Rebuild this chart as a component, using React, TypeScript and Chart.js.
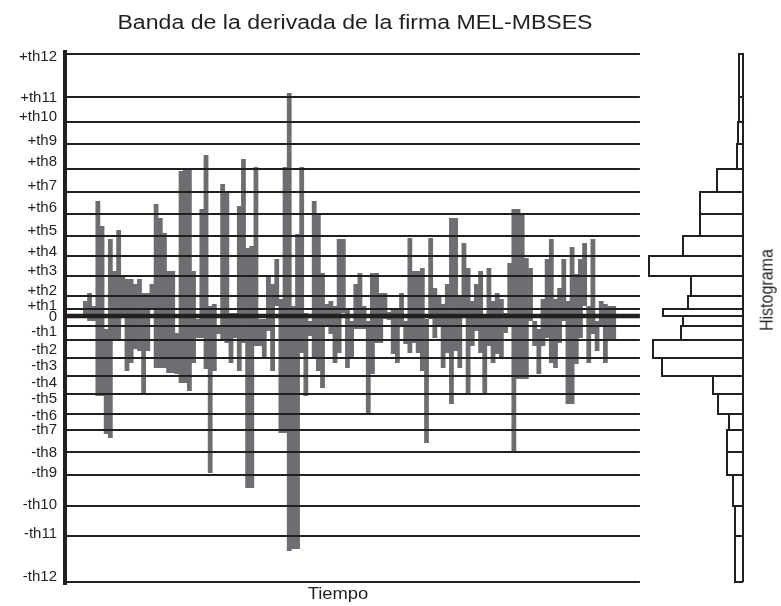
import React, { useEffect, useRef } from 'react';
import { Chart, registerables } from 'chart.js';

Chart.register(...registerables);

// Threshold labels / values (ascending, from -th12 to +th12)
const thresholdLabels = [
  '-th12', '-th11', '-th10', '-th9', '-th8', '-th7', '-th6', '-th5', '-th4', '-th3', '-th2', '-th1',
  '0',
  '+th1', '+th2', '+th3', '+th4', '+th5', '+th6', '+th7', '+th8', '+th9', '+th10', '+th11', '+th12',
];
const thresholdValues = [
  -266, -220, -190, -159, -136, -114, -98, -78, -60, -42, -24, -10,
  0,
  7, 20, 40, 60, 80, 102, 124, 147, 172, 194, 219, 262,
];
// where each tick label sits on the value axis
const labelAnchors = [
  -261, -218, -189, -157, -137, -114, -100, -83, -67, -50, -34, -16,
  -1,
  10, 25, 45, 64, 85, 108, 130, 154, 175, 199, 218, 259,
];

// Band of the derivative: per time sample, upper and lower value
const barHigh = [
  15, 23, 10, 115, 90, -13, 77, 45, 86, 40, 37, 37, 32, 37, 23, 23, 32, 112, 98, 83,
  45, 45, -17, 145, 148, 148, 45, -3, 107, 161, 10, 12, -10, 132, 123, 3, 3, 110, 157, 68,
  70, 149, -3, -3, 40, 32, 57, 17, 149, 223, 10, 82, 149, 3, -5, 115, 103, 43, 12, 15,
  10, 77, 77, 7, -5, 32, 43, 10, -5, 43, 43, 23, 23, 4, 7, 7, 23, -5, 78, 45,
  45, 48, -3, 78, 28, 20, 12, 32, 98, 98, 20, 73, 48, 15, 32, 45, -2, 48, 15, 23,
  17, 3, 53, 107, 107, 103, 58, 48, -5, -13, 17, 57, 77, 17, 28, 57, 15, 69, 42, 57,
  73, 10, 77, -5, 15, 12, 10, 10,
];
const barLow = [
  2, -5, -5, -80, -80, -118, -122, -23, -23, 0, -55, -47, -33, -35, -77, -35, 7, -52, -52, -52,
  -57, -57, -58, -67, -67, -75, -47, -22, -22, -53, -157, -55, -18, -25, -27, -47, -22, -55, -27, -172,
  -172, -30, -30, -43, -15, -55, 10, -117, -117, -235, -233, -233, -37, -80, -20, -43, -55, -72, -10, -18,
  -47, -37, 3, -52, -43, -13, -13, -13, -98, -58, -27, -27, -3, -4, -38, -47, -10, -28, -37, -27,
  -37, -55, -127, -3, -22, -10, -52, -37, -88, -35, -52, 0, -77, -30, -15, -37, -77, -30, -47, -38,
  -43, -17, -10, -135, -63, -63, -63, -5, -30, -58, -30, -22, -47, -52, -27, -5, -88, -88, -48, -22,
  10, -47, -18, -35, -10, -47, -23, -23,
];

// Histogram counts per bin (bin k between thresholdValues[k] and thresholdValues[k+1])
const histCounts = [
  8, 8, 10, 16, 16, 14, 25, 30, 81, 90, 62, 60,
  80, 55, 52, 94, 60, 43, 43, 26, 6, 5, 4, 4,
];

const X_MIN = -4.4;
const X_MAX = 158.58;
const LINE_END = 133.8;
const HIST_MAX = 678;
const Y_MIN = -268;
const Y_MAX = 264;

const INK = '#231f20';
const BAR_GRAY = '#6d6e71';
const FONT = "'Liberation Sans', Arial, Helvetica, sans-serif";

export default function App() {
  const ref = useRef<HTMLCanvasElement>(null);

  useEffect(() => {
    const canvas = ref.current;
    if (!canvas) return;

    const bars: any = {
      type: 'bar',
      label: 'banda',
      xAxisID: 'x',
      yAxisID: 'y',
      data: barHigh.map((h, i) => ({ x: i + 0.5, y: [barLow[i], h] })),
      backgroundColor: BAR_GRAY,
      borderWidth: 0,
      grouped: false,
      barThickness: 4.8,
      inflateAmount: 0,
      order: 2,
    };

    const lines: any[] = thresholdValues.map((v) => ({
      type: 'line',
      xAxisID: 'x',
      yAxisID: 'y',
      data: [
        { x: X_MIN, y: v },
        { x: LINE_END, y: v },
      ],
      borderColor: INK,
      borderWidth: v === 0 ? 4.5 : 2,
      borderCapStyle: 'butt',
      pointRadius: 0,
      fill: false,
      tension: 0,
      order: 1,
    }));

    const hist: any[] = histCounts.map((c, k) => {
      const lo = thresholdValues[k];
      const hi = thresholdValues[k + 1];
      return {
        type: 'line',
        xAxisID: 'xh',
        yAxisID: 'y',
        data: [
          { x: 0, y: lo },
          { x: c, y: lo },
          { x: c, y: hi },
          { x: 0, y: hi },
          { x: 0, y: lo },
        ],
        borderColor: INK,
        borderWidth: 2,
        borderJoinStyle: 'miter',
        pointRadius: 0,
        fill: false,
        tension: 0,
        clip: false,
        order: 0,
      };
    });

    const chart = new Chart(canvas, {
      type: 'bar',
      data: { datasets: [bars, ...lines, ...hist] },
      options: {
        responsive: false,
        animation: false,
        devicePixelRatio: 1,
        layout: { padding: { left: 0, right: 38, top: 52, bottom: 22 } },
        plugins: {
          legend: { display: false },
          tooltip: { enabled: false },
          title: { display: false },
        },
        scales: {
          x: {
            type: 'linear',
            min: X_MIN,
            max: X_MAX,
            display: false,
            offset: false,
            grid: { offset: false },
          },
          xh: {
            type: 'linear',
            min: 0,
            max: HIST_MAX,
            reverse: true,
            display: false,
            offset: false,
          },
          y: {
            type: 'linear',
            position: 'left',
            min: Y_MIN,
            max: Y_MAX,
            grid: { display: false, drawTicks: false },
            border: { display: true, color: INK, width: 4 },
            ticks: {
              autoSkip: false,
              padding: 8,
              color: INK,
              font: { family: FONT, size: 15 },
              callback: (_v: any, i: number) => thresholdLabels[i],
            },
            afterBuildTicks: (s: any) => {
              s.ticks = labelAnchors.map((v) => ({ value: v }));
            },
            afterFit: (s: any) => {
              s.width = 65;
            },
          },
        } as any,
      } as any,
    });

    return () => chart.destroy();
  }, []);

  const textBase: React.CSSProperties = {
    position: 'absolute',
    color: INK,
    fontFamily: FONT,
    whiteSpace: 'nowrap',
    lineHeight: 1,
  };

  return (
    <div style={{ position: 'absolute', left: 0, top: 0, width: 781, height: 606, background: '#fff' }}>
      <canvas ref={ref} width={781} height={606} style={{ display: 'block' }} />
      <div style={{ ...textBase, left: 355, top: 22, fontSize: 20, transform: 'translate(-50%, -50%) scaleX(1.155)' }}>
        Banda de la derivada de la firma MEL-MBSES
      </div>
      <div style={{ ...textBase, left: 338, top: 594, fontSize: 16, transform: 'translate(-50%, -50%) scaleX(1.15)' }}>
        Tiempo
      </div>
      <div style={{ ...textBase, left: 767, top: 290, fontSize: 16, transform: 'translate(-50%, -50%) rotate(-90deg) scaleY(1.15)' }}>
        Histograma
      </div>
    </div>
  );
}
